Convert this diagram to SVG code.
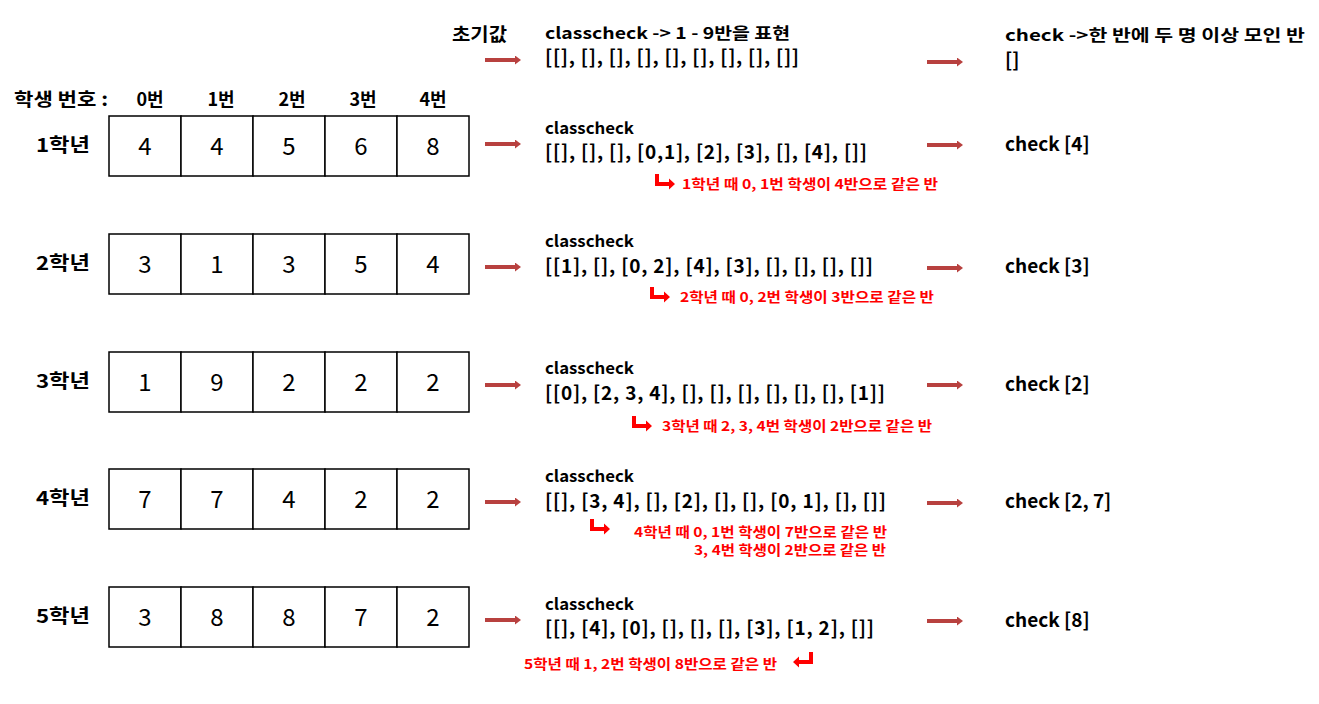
<svg xmlns="http://www.w3.org/2000/svg" width="1319" height="704" viewBox="0 0 1319 704">
<defs>
<style>
text{font-family:"Noto Sans CJK KR","Noto Sans",sans-serif;fill:#000}
.lbl{font-size:18px;font-weight:bold}
.row{font-size:19px;font-weight:bold}
.num{font-size:24px;text-anchor:middle}
.cc{font-size:16px;font-weight:bold}
.lst{font-size:19px;font-weight:bold}
.red{font-size:13.5px;font-weight:bold;fill:#ff0000}
.cell{fill:#fff;stroke:#000;stroke-width:1.5}
.arr{stroke:#b8413f;stroke-width:4;fill:none;marker-end:url(#ah)}
.bent{fill:#ff0000}
</style>
<marker id="ah" markerWidth="6" markerHeight="9" refX="0" refY="4.5" orient="auto" markerUnits="userSpaceOnUse" viewBox="0 0 6 9">
<path d="M0,0 L6,4.5 L0,9 Z" fill="#b8413f"/>
</marker>
</defs>
<rect width="1319" height="704" fill="#fff"/>

<g id="header">
<text x="14" y="106" class="lbl" textLength="94" lengthAdjust="spacingAndGlyphs">학생 번호 :</text>
<text x="150" y="106" class="lbl" text-anchor="middle">0번</text>
<text x="221" y="106" class="lbl" text-anchor="middle">1번</text>
<text x="292" y="106" class="lbl" text-anchor="middle">2번</text>
<text x="363" y="106" class="lbl" text-anchor="middle">3번</text>
<text x="433" y="106" class="lbl" text-anchor="middle">4번</text>
</g>

<g id="init">
<text x="452" y="41" class="lbl" textLength="55" lengthAdjust="spacingAndGlyphs">초기값</text>
<text x="545" y="39" class="cc" font-size="17" textLength="245" lengthAdjust="spacingAndGlyphs">classcheck -&gt; 1 - 9반을 표현</text>
<text x="545" y="64" class="lst" textLength="254" lengthAdjust="spacing">[[], [], [], [], [], [], [], [], []]</text>
<text x="1005" y="41" class="cc" font-size="17" textLength="300" lengthAdjust="spacingAndGlyphs">check -&gt;한 반에 두 명 이상 모인 반</text>
<text x="1005" y="67" class="lst">[]</text>
</g>

<g id="row1">
<text x="36" y="152" class="row" textLength="54" lengthAdjust="spacingAndGlyphs">1학년</text>
<rect x="109" y="116" width="72" height="60" class="cell"/>
<rect x="181" y="116" width="72" height="60" class="cell"/>
<rect x="253" y="116" width="72" height="60" class="cell"/>
<rect x="325" y="116" width="72" height="60" class="cell"/>
<rect x="397" y="116" width="72" height="60" class="cell"/>
<text x="145" y="155" class="num">4</text>
<text x="217" y="155" class="num">4</text>
<text x="289" y="155" class="num">5</text>
<text x="361" y="155" class="num">6</text>
<text x="433" y="155" class="num">8</text>
<text x="545" y="134" class="cc" textLength="89" lengthAdjust="spacingAndGlyphs">classcheck</text>
<text x="545" y="159" class="lst" textLength="322" lengthAdjust="spacing">[[], [], [], [0,1], [2], [3], [], [4], []]</text>
<path class="bent" d="M655,174 h4 v8 h10 v-3.5 l6,5.5 l-6,5.5 v-3.5 h-14 Z"/>
<text x="682" y="189" class="red" textLength="256" lengthAdjust="spacingAndGlyphs">1학년 때 0, 1번 학생이 4반으로 같은 반</text>
<text x="1005" y="151" class="lst" font-size="18">check [4]</text>
</g>

<g id="row2">
<text x="36" y="270" class="row" textLength="54" lengthAdjust="spacingAndGlyphs">2학년</text>
<rect x="109" y="234" width="72" height="60" class="cell"/>
<rect x="181" y="234" width="72" height="60" class="cell"/>
<rect x="253" y="234" width="72" height="60" class="cell"/>
<rect x="325" y="234" width="72" height="60" class="cell"/>
<rect x="397" y="234" width="72" height="60" class="cell"/>
<text x="145" y="273" class="num">3</text>
<text x="217" y="273" class="num">1</text>
<text x="289" y="273" class="num">3</text>
<text x="361" y="273" class="num">5</text>
<text x="433" y="273" class="num">4</text>
<text x="545" y="247" class="cc" textLength="89" lengthAdjust="spacingAndGlyphs">classcheck</text>
<text x="545" y="273" class="lst" textLength="328" lengthAdjust="spacing">[[1], [], [0, 2], [4], [3], [], [], [], []]</text>
<path class="bent" d="M650,287 h4 v8 h10 v-3.5 l6,5.5 l-6,5.5 v-3.5 h-14 Z"/>
<text x="680" y="302" class="red" textLength="254" lengthAdjust="spacingAndGlyphs">2학년 때 0, 2번 학생이 3반으로 같은 반</text>
<text x="1005" y="273" class="lst" font-size="18">check [3]</text>
</g>

<g id="row3">
<text x="36" y="388" class="row" textLength="54" lengthAdjust="spacingAndGlyphs">3학년</text>
<rect x="109" y="352" width="72" height="60" class="cell"/>
<rect x="181" y="352" width="72" height="60" class="cell"/>
<rect x="253" y="352" width="72" height="60" class="cell"/>
<rect x="325" y="352" width="72" height="60" class="cell"/>
<rect x="397" y="352" width="72" height="60" class="cell"/>
<text x="145" y="391" class="num">1</text>
<text x="217" y="391" class="num">9</text>
<text x="289" y="391" class="num">2</text>
<text x="361" y="391" class="num">2</text>
<text x="433" y="391" class="num">2</text>
<text x="545" y="374" class="cc" textLength="89" lengthAdjust="spacingAndGlyphs">classcheck</text>
<text x="545" y="400" class="lst" textLength="340" lengthAdjust="spacing">[[0], [2, 3, 4], [], [], [], [], [], [], [1]]</text>
<path class="bent" d="M632,416 h4 v8 h10 v-3.5 l6,5.5 l-6,5.5 v-3.5 h-14 Z"/>
<text x="662" y="431" class="red" textLength="270" lengthAdjust="spacingAndGlyphs">3학년 때 2, 3, 4번 학생이 2반으로 같은 반</text>
<text x="1005" y="391" class="lst" font-size="18">check [2]</text>
</g>

<g id="row4">
<text x="36" y="505" class="row" textLength="54" lengthAdjust="spacingAndGlyphs">4학년</text>
<rect x="109" y="469" width="72" height="60" class="cell"/>
<rect x="181" y="469" width="72" height="60" class="cell"/>
<rect x="253" y="469" width="72" height="60" class="cell"/>
<rect x="325" y="469" width="72" height="60" class="cell"/>
<rect x="397" y="469" width="72" height="60" class="cell"/>
<text x="145" y="508" class="num">7</text>
<text x="217" y="508" class="num">7</text>
<text x="289" y="508" class="num">4</text>
<text x="361" y="508" class="num">2</text>
<text x="433" y="508" class="num">2</text>
<text x="545" y="482" class="cc" textLength="89" lengthAdjust="spacingAndGlyphs">classcheck</text>
<text x="545" y="508" class="lst" textLength="341" lengthAdjust="spacing">[[], [3, 4], [], [2], [], [], [0, 1], [], []]</text>
<path class="bent" d="M590,519 h4 v8 h10 v-3.5 l6,5.5 l-6,5.5 v-3.5 h-14 Z"/>
<text x="634" y="537" class="red" textLength="253" lengthAdjust="spacingAndGlyphs">4학년 때 0, 1번 학생이 7반으로 같은 반</text>
<text x="694" y="555" class="red" textLength="192" lengthAdjust="spacingAndGlyphs">3, 4번 학생이 2반으로 같은 반</text>
<text x="1005" y="508" class="lst" font-size="18">check [2, 7]</text>
</g>

<g id="row5">
<text x="36" y="623" class="row" textLength="54" lengthAdjust="spacingAndGlyphs">5학년</text>
<rect x="109" y="587" width="72" height="60" class="cell"/>
<rect x="181" y="587" width="72" height="60" class="cell"/>
<rect x="253" y="587" width="72" height="60" class="cell"/>
<rect x="325" y="587" width="72" height="60" class="cell"/>
<rect x="397" y="587" width="72" height="60" class="cell"/>
<text x="145" y="626" class="num">3</text>
<text x="217" y="626" class="num">8</text>
<text x="289" y="626" class="num">8</text>
<text x="361" y="626" class="num">7</text>
<text x="433" y="626" class="num">2</text>
<text x="545" y="610" class="cc" textLength="89" lengthAdjust="spacingAndGlyphs">classcheck</text>
<text x="545" y="635" class="lst" textLength="329" lengthAdjust="spacing">[[], [4], [0], [], [], [], [3], [1, 2], []]</text>
<path class="bent" d="M813,652 h-4 v8 h-10 v-3.5 l-6,5.5 l6,5.5 v-3.5 h14 Z"/>
<text x="524" y="669" class="red" textLength="253" lengthAdjust="spacingAndGlyphs">5학년 때 1, 2번 학생이 8반으로 같은 반</text>
<text x="1005" y="627" class="lst" font-size="18">check [8]</text>
</g>

<g id="connectors">
<line x1="485" y1="60" x2="515" y2="60" class="arr"/>
<line x1="485" y1="144" x2="515" y2="144" class="arr"/>
<line x1="485" y1="267" x2="515" y2="267" class="arr"/>
<line x1="485" y1="385" x2="515" y2="385" class="arr"/>
<line x1="485" y1="502" x2="515" y2="502" class="arr"/>
<line x1="485" y1="620" x2="515" y2="620" class="arr"/>
<line x1="927" y1="62" x2="957" y2="62" class="arr"/>
<line x1="927" y1="145" x2="957" y2="145" class="arr"/>
<line x1="927" y1="268" x2="957" y2="268" class="arr"/>
<line x1="927" y1="385" x2="957" y2="385" class="arr"/>
<line x1="927" y1="503" x2="957" y2="503" class="arr"/>
<line x1="927" y1="621" x2="957" y2="621" class="arr"/>
</g>
</svg>
